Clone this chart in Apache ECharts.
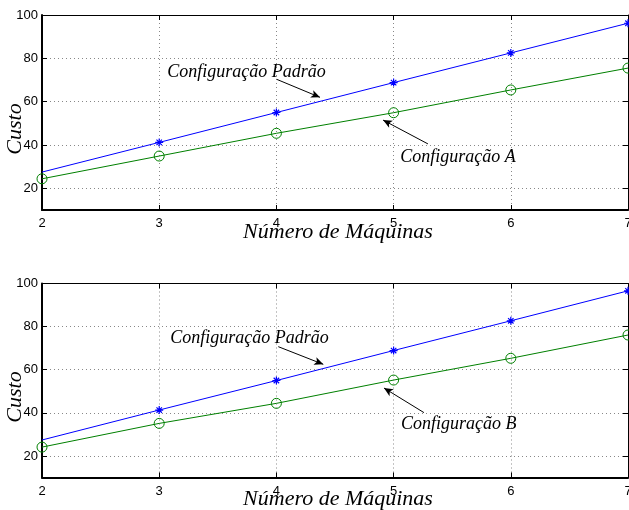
<!DOCTYPE html>
<html>
<head>
<meta charset="utf-8">
<script src="https://cdn.jsdelivr.net/npm/echarts@6/dist/echarts.min.js"></script>
<style>html,body{margin:0;padding:0;background:#fff}#c{width:629px;height:510px}</style>
</head>
<body>
<div id="c"></div>
<script>
// ---- data ----
var maquinas = [2, 3, 4, 5, 6, 7];
var padraoTop = [27.5, 41.2, 55.0, 68.8, 82.5, 96.2];
var configA = [24.4, 34.9, 45.4, 54.9, 65.4, 75.5];
var padraoBottom = [27.4, 41.3, 55.0, 68.9, 82.7, 96.6];
var configB = [24.1, 35.1, 44.4, 55.2, 65.3, 76.1];
var yTicks = [20, 40, 60, 80, 100];
var xTicks = [2, 3, 4, 5, 6, 7];
// annotations in data coordinates: [x, y]
var labelsTop = [['Configuração Padrão', 3.745, 73.7], ['Configuração A', 5.55, 34.5]];
var arrowsTop = [[[4.003, 70.3], [4.372, 62.0]], [[5.293, 40.5], [4.91, 51.5]]];
var labelsBottom = [['Configuração Padrão', 3.77, 74.7], ['Configuração B', 5.555, 34.8]];
var arrowsBottom = [[[4.016, 70.7], [4.40, 62.5]], [[5.259, 40.1], [4.918, 51.5]]];

var serif = 'Liberation Serif';
var sans = 'Liberation Sans';
var asterisk = 'path://M5,0L5,10M0,5L10,5M1.6,1.6L8.4,8.4M1.6,8.4L8.4,1.6';

function pairs(xs, ys) { return xs.map(function (x, i) { return [x, ys[i]]; }); }

function xAxisDef(gi, pos, main) {
  return {
    type: 'value', gridIndex: gi, position: pos, min: 2, max: 7, interval: 1,
    name: main ? 'Número de Máquinas' : '', nameLocation: 'middle', nameGap: 11, nameMoveOverlap: false,
    nameTextStyle: { fontFamily: serif, fontStyle: 'italic', fontSize: 22, color: '#000', verticalAlign: 'top', padding: [0, 0, 0, 6] },
    axisLine: { show: true, onZero: false, lineStyle: { color: '#000', width: main ? 2 : 1 } },
    axisTick: { show: true, inside: true, length: 5, lineStyle: { color: '#000' } },
    axisLabel: { show: main, margin: 7, fontFamily: sans, fontSize: 13, color: '#000',
      formatter: function (v) { return String(v); } },
    splitLine: { show: main, lineStyle: { color: '#888', type: [1, 3], width: 1 } }
  };
}
function yAxisDef(gi, pos, main) {
  return {
    type: 'value', gridIndex: gi, position: pos, min: 10, max: 100,
    name: main ? 'Custo' : '', nameLocation: 'middle', nameGap: 16, nameRotate: 90, nameMoveOverlap: false,
    nameTextStyle: { fontFamily: serif, fontStyle: 'italic', fontSize: 22, color: '#000', padding: [0, 33, 0, 0] },
    axisLine: { show: true, onZero: false, lineStyle: { color: '#000', width: main ? 2 : 1 } },
    axisTick: { show: true, inside: true, length: 5, customValues: yTicks, lineStyle: { color: '#000' } },
    axisLabel: { show: main, margin: 4, customValues: yTicks, fontFamily: sans, fontSize: 13, color: '#000' },
    splitLine: { show: main, lineStyle: { color: '#888', type: [1, 3], width: 1 } }
  };
}

function annotations(labels, arrows) {
  return {
    markPoint: {
      silent: true, symbol: 'circle', symbolSize: 1, itemStyle: { color: 'rgba(0,0,0,0)' },
      label: { show: true, position: 'inside', formatter: function (p) { return p.name; },
        fontFamily: serif, fontStyle: 'italic', fontSize: 18, color: '#000' },
      data: labels.map(function (l) { return { name: l[0], coord: [l[1], l[2]] }; })
    },
    markLine: {
      silent: true, symbol: ['none', 'arrow'], symbolSize: [6, 9], animation: false,
      lineStyle: { color: '#000', width: 1, type: 'solid' }, label: { show: false },
      data: arrows.map(function (a) { return [{ coord: a[0] }, { coord: a[1] }]; })
    }
  };
}

function starSeries(xi, yi, ys, extra) {
  var s = {
    type: 'line', xAxisIndex: xi, yAxisIndex: yi, data: pairs(maquinas, ys),
    symbol: function (v, p) { return p.dataIndex === 0 ? 'none' : asterisk; }, symbolSize: 8,
    lineStyle: { color: '#0000ff', width: 1 },
    itemStyle: { color: '#0000ff', borderColor: '#0000ff', borderWidth: 1.2 },
    z: 3
  };
  return Object.assign(s, extra || {});
}
function circSeries(xi, yi, ys) {
  return {
    type: 'line', xAxisIndex: xi, yAxisIndex: yi, data: pairs(maquinas, ys),
    symbol: 'circle', symbolSize: 10, showAllSymbol: true,
    lineStyle: { color: '#008000', width: 1 },
    itemStyle: { color: 'rgba(0,0,0,0)', borderColor: '#008000', borderWidth: 1 },
    z: 3
  };
}

var chart = echarts.init(document.getElementById('c'), null, { renderer: 'canvas' });
chart.setOption({
  animation: false,
  backgroundColor: '#fff',
  grid: [
    { left: 42, right: 1, top: 15, height: 195, outerBoundsMode: 'none', containLabel: false },
    { left: 42, right: 1, top: 283.5, height: 194, outerBoundsMode: 'none', containLabel: false }
  ],
  xAxis: [xAxisDef(0, 'bottom', true), xAxisDef(0, 'top', false), xAxisDef(1, 'bottom', true), xAxisDef(1, 'top', false)],
  yAxis: [yAxisDef(0, 'left', true), yAxisDef(0, 'right', false), yAxisDef(1, 'left', true), yAxisDef(1, 'right', false)],
  series: [
    starSeries(0, 0, padraoTop, annotations(labelsTop, arrowsTop)),
    circSeries(0, 0, configA),
    starSeries(2, 2, padraoBottom, annotations(labelsBottom, arrowsBottom)),
    circSeries(2, 2, configB)
  ]
});
</script>
</body>
</html>
